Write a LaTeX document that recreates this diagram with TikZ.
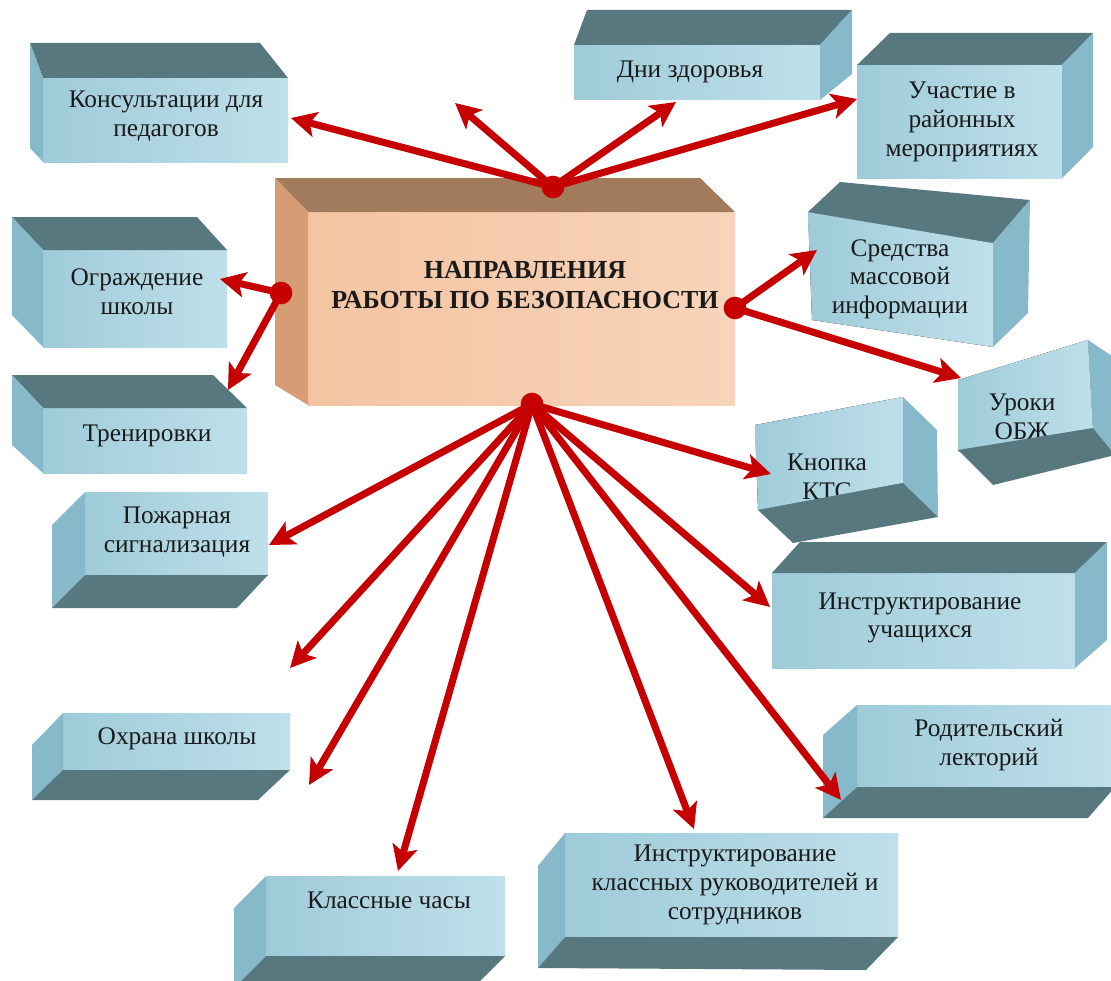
\documentclass[tikz,border=0pt]{standalone}
\usepackage{fontspec}
\setmainfont{Liberation Serif}
\usetikzlibrary{arrows.meta}
\definecolor{topc}{HTML}{587880}
\definecolor{sidec}{HTML}{86B9C9}
\definecolor{fa}{HTML}{9FCBD9}
\definecolor{fm}{HTML}{DCEFF4}
\definecolor{fb}{HTML}{BFE0EA}
\definecolor{ctop}{HTML}{A27A5C}
\definecolor{cside}{HTML}{D69C74}
\definecolor{ca}{HTML}{F4C4A2}
\definecolor{cm}{HTML}{FDE8D9}
\definecolor{cb}{HTML}{F8D4BA}
\definecolor{arrred}{HTML}{C60000}
\definecolor{txt}{HTML}{1A1A1A}
\begin{document}
\begin{tikzpicture}[x=0.75pt,y=-0.75pt,
  frontf/.style={left color=fa,middle color=fm,right color=fb},
  darkf/.style={fill=topc},
  sidef/.style={fill=sidec},
  lbl/.style={font=\fontsize{19}{21.5}\selectfont,align=center,text=txt,inner sep=0pt},
  arr/.style={draw=arrred,line width=5.3pt,-{Stealth[length=19pt,width=19pt,inset=4.5pt]}},
  hubdot/.style={fill=arrred}]
\useasboundingbox (0,0) rectangle (1111,981);

% --- Konsultatsii
\fill[frontf] (43,78) rectangle (288,162);
\fill[darkf] (30,43) -- (260,43) -- (288,78) -- (43,78) -- cycle;
\fill[sidef] (30,43) -- (43,78) -- (43,162) -- (30,148) -- cycle;
\node[lbl] (kons) at (166,116) {Консультации для\\педагогов};

% --- Dni zdorovya
\fill[frontf] (574,45) rectangle (820,100);
\fill[darkf] (587,10) -- (852,10) -- (820,45) -- (574,45) -- cycle;
\fill[sidef] (820,45) -- (852,10) -- (852,74) -- (820,100) -- cycle;
\node[lbl] (dni) at (690,72) {Дни здоровья};

% --- Uchastie
\fill[frontf] (857,65) rectangle (1062,178);
\fill[darkf] (890,33) -- (1093,33) -- (1062,65) -- (857,65) -- cycle;
\fill[sidef] (1062,65) -- (1093,33) -- (1093,147) -- (1062,178) -- cycle;
\node[lbl] (uch) at (962,122) {Участие в\\районных\\мероприятиях};

% --- Central
\fill[left color=ca,middle color=cm,right color=cb] (308,212) rectangle (735,405);
\fill[ctop] (275,178) -- (700,178) -- (735,212) -- (308,212) -- cycle;
\fill[cside] (275,178) -- (308,212) -- (308,405) -- (275,385) -- cycle;
\node[lbl,font=\bfseries\fontsize{19.5}{22.5}\selectfont] (main) at (525,285) {НАПРАВЛЕНИЯ\\РАБОТЫ ПО БЕЗОПАСНОСТИ};

% --- SMI
\fill[frontf] (808,212) -- (993,243) -- (993,347) -- (812,320) -- cycle;
\fill[darkf] (840,182) -- (1030,200) -- (993,243) -- (808,212) -- cycle;
\fill[sidef] (993,243) -- (1030,200) -- (1028,313) -- (993,347) -- cycle;
\node[lbl] (smi) at (900,279) {Средства\\массовой\\информации};

% --- Uroki OBZh
\fill[frontf] (958,380) -- (1088,340) -- (1093,430) -- (958,452) -- cycle;
\node[lbl] (urok) at (1022,417) {Уроки\\ОБЖ};
\fill[sidef] (1088,340) -- (1115,358) -- (1115,455) -- (1093,428) -- cycle;
\fill[darkf] (958,450) -- (1093,428) -- (1115,455) -- (993,485) -- cycle;

% --- Instruktirovanie uchashchikhsya
\fill[frontf] (772,573) rectangle (1075,668);
\fill[darkf] (800,542) -- (1107,542) -- (1075,573) -- (772,573) -- cycle;
\fill[sidef] (1075,573) -- (1107,542) -- (1107,640) -- (1075,668) -- cycle;
\node[lbl] (instu) at (920,618) {Инструктирование\\учащихся};

% --- Knopka KTS
\fill[frontf] (755,425) -- (903,397) -- (903,483) -- (758,510) -- cycle;
\node[lbl] (knop) at (827,477) {Кнопка\\КТС};
\fill[sidef] (903,397) -- (937,430) -- (938,517) -- (903,483) -- cycle;
\fill[darkf] (758,510) -- (903,483) -- (938,517) -- (793,543) -- cycle;

% --- Roditelskiy lektoriy
\fill[frontf] (857,705) rectangle (1111,787);
\fill[sidef] (823,735) -- (857,705) -- (857,787) -- (823,818) -- cycle;
\fill[darkf] (823,818) -- (857,787) -- (1115,787) -- (1088,818) -- cycle;
\node[lbl] (rod) at (989,745) {Родительский\\лекторий};

% --- Instruktirovanie klassnykh
\fill[frontf] (565,833) rectangle (898,937);
\fill[sidef] (538,866) -- (565,833) -- (565,937) -- (538,968) -- cycle;
\fill[darkf] (538,968) -- (565,937) -- (898,937) -- (866,970) -- cycle;
\node[lbl] (instk) at (735,885) {Инструктирование\\классных руководителей и\\сотрудников};

% --- Klassnye chasy
\fill[frontf] (266,876) rectangle (505,956);
\fill[sidef] (234,908) -- (266,876) -- (266,956) -- (234,988) -- cycle;
\fill[darkf] (234,988) -- (266,956) -- (505,956) -- (473,988) -- cycle;
\node[lbl] (klass) at (389,900) {Классные часы};

% --- Okhrana shkoly
\fill[frontf] (63,713) rectangle (290,770);
\fill[sidef] (32,745) -- (63,713) -- (63,770) -- (32,800) -- cycle;
\fill[darkf] (32,800) -- (63,770) -- (290,770) -- (258,800) -- cycle;
\node[lbl] (okh) at (177,739) {Охрана школы};

% --- Pozharnaya
\fill[frontf] (85,492) rectangle (268,575);
\fill[sidef] (52,525) -- (85,492) -- (85,575) -- (52,608) -- cycle;
\fill[darkf] (52,608) -- (85,575) -- (268,575) -- (237,608) -- cycle;
\node[lbl] (pozh) at (177,532) {Пожарная\\сигнализация};

% --- Trenirovki
\fill[frontf] (43,408) rectangle (247,473);
\fill[darkf] (12,375) -- (213,375) -- (247,408) -- (43,408) -- cycle;
\fill[sidef] (12,375) -- (43,408) -- (43,473) -- (12,445) -- cycle;
\node[lbl] (tren) at (147,436) {Тренировки};

% --- Ograzhdenie
\fill[frontf] (43,250) rectangle (227,347);
\fill[darkf] (12,217) -- (197,217) -- (227,250) -- (43,250) -- cycle;
\fill[sidef] (12,217) -- (43,250) -- (43,347) -- (12,315) -- cycle;
\node[lbl] (ogr) at (137,292) {Ограждение\\школы};

% --- hubs and arrow ends
\coordinate (hubT) at (553,187);
\coordinate (hubL) at (281,293);
\coordinate (hubR) at (735,308);
\coordinate (hubB) at (532,404);

\coordinate (tKons) at (291,118);
\coordinate (tUp) at (455,103);
\coordinate (tDni) at (676,102);
\coordinate (tUch) at (857,99);
\coordinate (tOgr) at (220,279);
\coordinate (tTren) at (228,390);
\coordinate (tSMI) at (817,250);
\coordinate (tUrok) at (961,378);
\coordinate (tKnop) at (771,474);
\coordinate (tInstU) at (770,607);
\coordinate (tRod) at (841,800);
\coordinate (tInstK) at (694,829);
\coordinate (tKlass) at (398,871);
\coordinate (tOkh) at (309,785);
\coordinate (tFree) at (290,668);
\coordinate (tPozh) at (269,545);

\draw[arr] (hubT) -- (tKons);
\draw[arr] (hubT) -- (tUp);
\draw[arr] (hubT) -- (tDni);
\draw[arr] (hubT) -- (tUch);
\draw[arr] (hubL) -- (tOgr);
\draw[arr] (hubL) -- (tTren);
\draw[arr] (hubR) -- (tSMI);
\draw[arr] (hubR) -- (tUrok);
\draw[arr] (hubB) -- (tKnop);
\draw[arr] (hubB) -- (tInstU);
\draw[arr] (hubB) -- (tRod);
\draw[arr] (hubB) -- (tInstK);
\draw[arr] (hubB) -- (tKlass);
\draw[arr] (hubB) -- (tOkh);
\draw[arr] (hubB) -- (tFree);
\draw[arr] (hubB) -- (tPozh);

\fill[hubdot] (hubT) circle[radius=8.5pt];
\fill[hubdot] (hubL) circle[radius=8.5pt];
\fill[hubdot] (hubR) circle[radius=8.5pt];
\fill[hubdot] (hubB) circle[radius=8.5pt];
\end{tikzpicture}
\end{document}
